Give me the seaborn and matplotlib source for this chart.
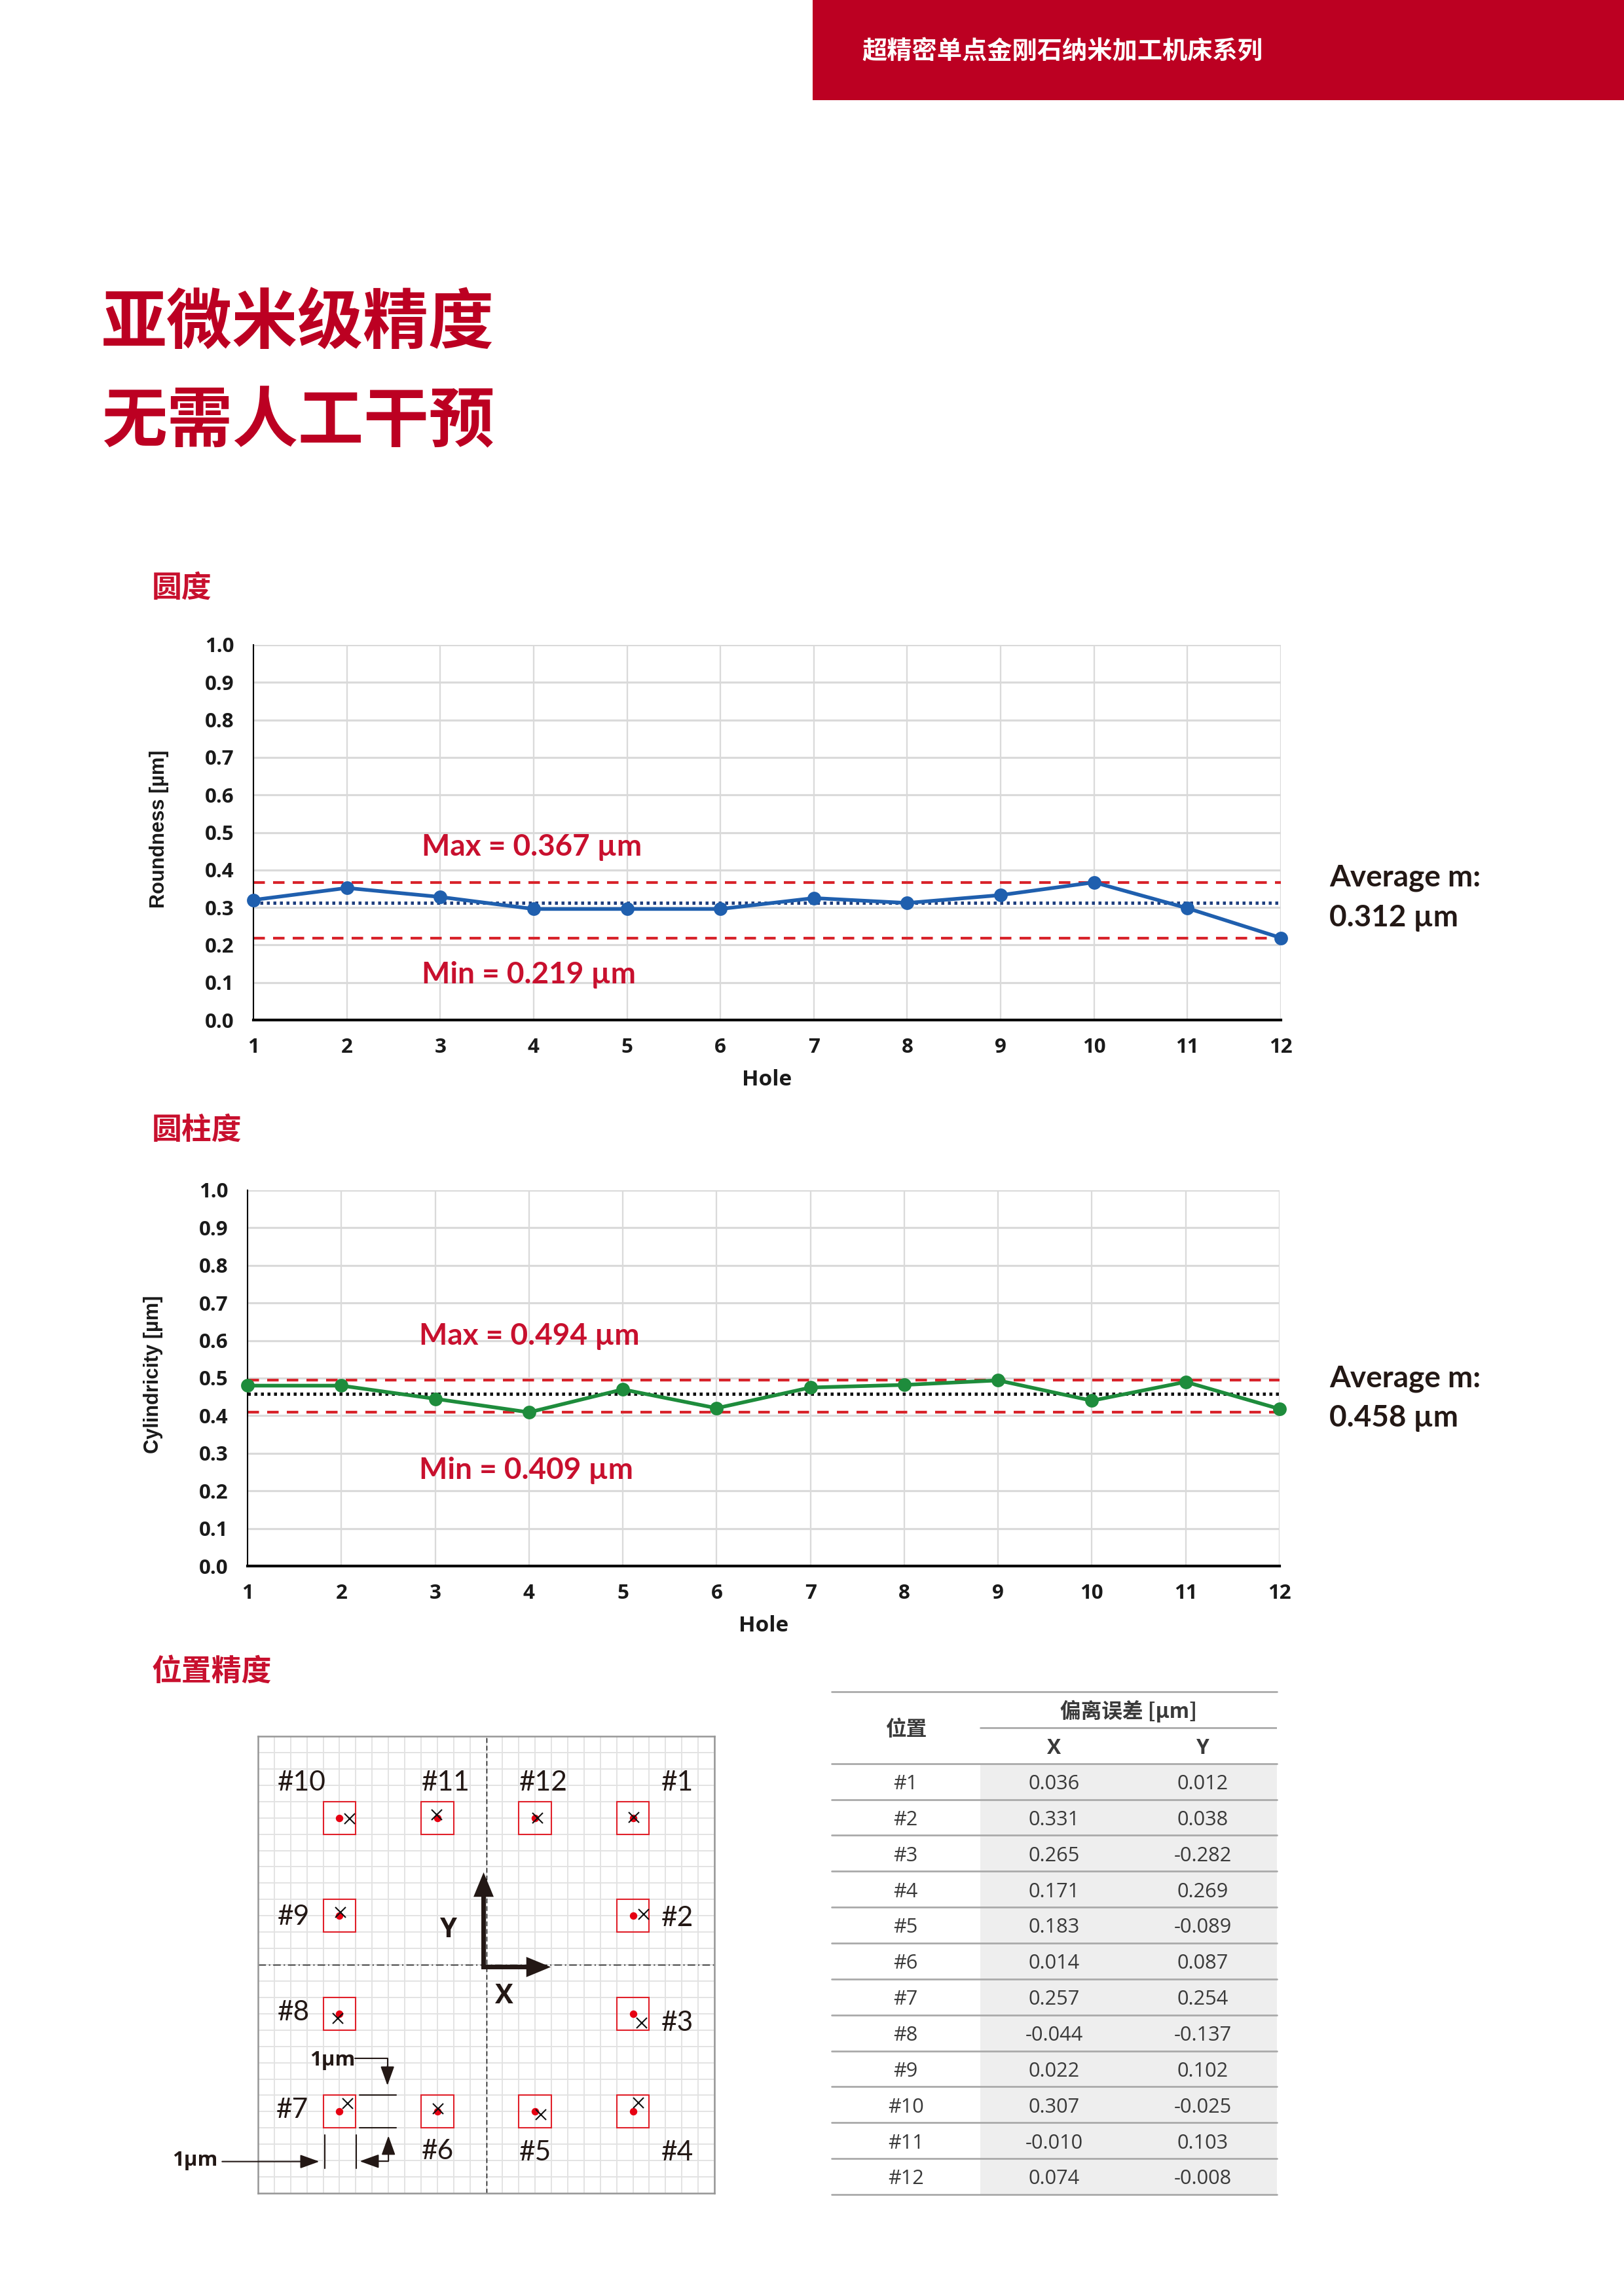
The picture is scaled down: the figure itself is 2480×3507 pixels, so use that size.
import matplotlib
matplotlib.use("Agg")
import matplotlib.pyplot as plt
import seaborn as sns
from matplotlib.patches import Rectangle, FancyArrow

sns.set_theme(style="white")
CJK = ['Noto Sans CJK SC', 'DejaVu Sans']
plt.rcParams['font.family'] = ['Open Sans', 'DejaVu Sans']

# ---------- data ----------
holes = list(range(1, 13))
roundness = [0.320, 0.352, 0.328, 0.296, 0.296, 0.296, 0.325, 0.312, 0.333, 0.367, 0.298, 0.219]
round_max, round_min, round_avg = 0.367, 0.219, 0.312
cylindricity = [0.480, 0.480, 0.445, 0.409, 0.470, 0.420, 0.475, 0.482, 0.494, 0.440, 0.490, 0.418]
cyl_max, cyl_min, cyl_avg = 0.494, 0.409, 0.458
dev_x = [0.036, 0.331, 0.265, 0.171, 0.183, 0.014, 0.257, -0.044, 0.022, 0.307, -0.010, 0.074]
dev_y = [0.012, 0.038, -0.282, 0.269, -0.089, 0.087, 0.254, -0.137, 0.102, -0.025, 0.103, -0.008]
dev_x_txt = ["0.036", "0.331", "0.265", "0.171", "0.183", "0.014", "0.257", "-0.044", "0.022", "0.307", "-0.010", "0.074"]
dev_y_txt = ["0.012", "0.038", "-0.282", "0.269", "-0.089", "0.087", "0.254", "-0.137", "0.102", "-0.025", "0.103", "-0.008"]
nominal_x = [4.5, 4.5, 4.5, 4.5, 1.5, -1.5, -4.5, -4.5, -4.5, -4.5, -1.5, 1.5]
nominal_y = [4.5, 1.5, -1.5, -4.5, -4.5, -4.5, -4.5, -1.5, 1.5, 4.5, 4.5, 4.5]
label_x = [5.37, 5.37, 5.37, 5.37, 1.01, -1.99, -6.44, -6.39, -6.39, -6.39, -1.99, 1.01]
label_y = [5.57, 1.43, -1.79, -5.76, -5.76, -5.71, -4.46, -1.46, 1.46, 5.57, 5.57, 5.57]
y_ticks = [0.0, 0.1, 0.2, 0.3, 0.4, 0.5, 0.6, 0.7, 0.8, 0.9, 1.0]

# ---------- layout helpers ----------
W, H = 2480, 3507
DPI = 300
RED = "#BC0022"
TXT_RED = "#C8102E"
fig = plt.figure(figsize=(W / DPI, H / DPI), dpi=DPI, facecolor="white")


def px_axes(x0, y0, x1, y1):
    return fig.add_axes([x0 / W, 1 - y1 / H, (x1 - x0) / W, (y1 - y0) / H])


def ftext(x, y, s, **kw):
    kw.setdefault("va", "center")
    return fig.text(x / W, 1 - y / H, s, **kw)


# ---------- header ----------
fig.add_artist(Rectangle((1241 / W, 1 - 153 / H), (W - 1241) / W, 153 / H,
                         transform=fig.transFigure, color=RED, lw=0))
ftext(1316, 78, "超精密单点金刚石纳米加工机床系列", family=CJK, weight="bold", color="white", fontsize=9.2)
ftext(155, 495, "亚微米级精度", family=CJK, weight="bold", color=RED, fontsize=24.0)
ftext(155, 645, "无需人工干预", family=CJK, weight="bold", color=RED, fontsize=24.0)
ftext(232, 899, "圆度", family=CJK, weight="bold", color=TXT_RED, fontsize=11)
ftext(232, 1727, "圆柱度", family=CJK, weight="bold", color=TXT_RED, fontsize=11)
ftext(232, 2554, "位置精度", family=CJK, weight="bold", color=TXT_RED, fontsize=11)


# ---------- line charts ----------
def line_chart(box, values, vmax, vmin, vavg, color, avg_color, ylabel, ylab_x, max_y, min_y, txt_x, avg_px):
    ax = px_axes(*box)
    ax.set_xlim(1, 12)
    ax.set_ylim(0, 1)
    ax.set_axisbelow(True)
    ax.set_xticks(holes)
    ax.set_yticks(y_ticks)
    ax.set_yticklabels([f"{t:.1f}" for t in y_ticks])
    ax.grid(axis="y", color="#DADADA", lw=0.75)
    ax.grid(axis="x", color="#DADADA", lw=0.55)
    ax.tick_params(axis="both", length=0, labelsize=7.5, labelcolor="#1a1a1a")
    ax.tick_params(axis="y", pad=7)
    ax.tick_params(axis="x", pad=6.5)
    for t in ax.get_xticklabels() + ax.get_yticklabels():
        t.set_fontweight("bold")
    for s in ("top", "right"):
        ax.spines[s].set_visible(False)
    ax.spines["left"].set_color("black")
    ax.spines["left"].set_linewidth(0.5)
    ax.spines["bottom"].set_color("black")
    ax.spines["bottom"].set_linewidth(1.0)
    ax.axhline(vmax, color="#D8232A", lw=1.0, dashes=(4.2, 3.0), zorder=2)
    ax.axhline(vmin, color="#D8232A", lw=1.0, dashes=(4.2, 3.0), zorder=2)
    ax.axhline(vavg, color=avg_color, lw=1.2, dashes=(0.9, 1.1), zorder=2)
    sns.lineplot(x=holes, y=values, ax=ax, color=color, lw=1.35, marker="o", ms=5.0,
                 mec=color, mew=0, clip_on=False, zorder=3, errorbar=None)
    ax.set_xlabel("Hole", fontsize=8, fontweight="bold", color="#1a1a1a", va="center")
    ax.xaxis.set_label_coords(0.5, -91 / (box[3] - box[1]))
    ax.set_ylabel(ylabel, fontsize=7.4, fontweight="bold", color="#1a1a1a", family="Liberation Sans", va="center")
    ax.yaxis.set_label_coords(ylab_x, 0.51)
    ax.text(txt_x, max_y, f"Max = {vmax:.3f} µm", color=TXT_RED, fontsize=11, fontweight="bold",
            family="Lato", va="center")
    ax.text(txt_x, min_y, f"Min = {vmin:.3f} µm", color=TXT_RED, fontsize=11, fontweight="bold",
            family="Lato", va="center")
    ftext(2030, avg_px[0], "Average m:", color="#231815", fontsize=11, fontweight="bold", family="Lato")
    ftext(2030, avg_px[1], f"{vavg:.3f} µm", color="#231815", fontsize=11, fontweight="bold", family="Lato")
    return ax


line_chart((387, 985, 1956, 1558), roundness, round_max, round_min, round_avg, "#1F5FAE", "#1F3F7F",
           "Roundness [µm]", -144 / 1569, 0.461, 0.120, 2.80, (1341, 1402))
line_chart((378, 1818, 1954, 2392), cylindricity, cyl_max, cyl_min, cyl_avg, "#1E8C3C", "#111111",
           "Cylindricity [µm]", -144 / 1576, 0.611, 0.254, 2.83, (2106, 2166))

# ---------- position diagram ----------
ax = px_axes(394, 2652, 1091, 3350)
ax.set_xlim(-7, 7)
ax.set_ylim(-7, 7)
ticks = [i * 0.5 for i in range(-14, 15)]
ax.set_xticks(ticks)
ax.set_yticks(ticks)
ax.tick_params(length=0, labelbottom=False, labelleft=False)
ax.grid(True, color="#E2E2E2", lw=0.45)
ax.set_axisbelow(True)
for s in ax.spines.values():
    s.set_color("#969696")
    s.set_linewidth(0.6)
ax.axhline(0, color="#111111", lw=0.35, dashes=(8, 3, 1.5, 3), zorder=2)
ax.axvline(0, color="#111111", lw=0.35, dashes=(5, 3), zorder=2)
for i in range(12):
    cx, cy = nominal_x[i], nominal_y[i]
    ax.add_patch(Rectangle((cx - 0.5, cy - 0.5), 1, 1, fill=False, ec="#E0202A", lw=0.5, zorder=3))
    ax.text(label_x[i], label_y[i], f"#{i + 1}", fontsize=10.2, family="Lato", fontweight="normal",
            color="#231815", va="center", ha="left")
sns.scatterplot(x=nominal_x, y=nominal_y, ax=ax, color="#E60012", s=7.5, lw=0, zorder=4)
ax.plot([a + b for a, b in zip(nominal_x, dev_x)], [a + b for a, b in zip(nominal_y, dev_y)],
        ls="none", marker="x", ms=4, mew=0.5, color="#111111", zorder=5)
ax.add_patch(FancyArrow(-0.08, -0.1, 0, 2.93, width=0.14, head_width=0.62, head_length=0.75,
                        length_includes_head=True, color="#231815", lw=0, zorder=6))
ax.add_patch(FancyArrow(-0.15, -0.07, 2.13, 0, width=0.14, head_width=0.62, head_length=0.75,
                        length_includes_head=True, color="#231815", lw=0, zorder=6))
ax.text(-1.16, 1.06, "Y", fontsize=10, fontweight="bold", color="#231815", ha="center", va="center")
ax.text(0.54, -0.97, "X", fontsize=10, fontweight="bold", color="#231815", ha="center", va="center")

ax.text(-4.72, -2.92, "1µm", fontsize=7.5, fontweight="bold", color="#231815", ha="center", va="center")
ax.text(-8.93, -6.0, "1µm", fontsize=7.5, fontweight="bold", color="#231815", ha="center", va="center", clip_on=False)
DIM = "#231815"
arrow_kw = dict(arrowstyle="-|>,head_length=0.5,head_width=0.18", color=DIM, lw=0.5, shrinkA=0, shrinkB=0)
ax.plot([-4.02, -3.03, -3.03], [-2.87, -2.87, -3.2], color=DIM, lw=0.5, zorder=5)
ax.annotate("", xy=(-3.03, -3.70), xytext=(-3.03, -3.1), arrowprops=arrow_kw, zorder=5)
ax.plot([-3.88, -2.76], [-4.0, -4.0], color=DIM, lw=0.5, zorder=5)
ax.plot([-3.88, -2.76], [-5.0, -5.0], color=DIM, lw=0.5, zorder=5)
ax.annotate("", xy=(-3.0, -5.24), xytext=(-3.0, -6.0), arrowprops=arrow_kw, zorder=5)
ax.annotate("", xy=(-3.88, -6.02), xytext=(-3.0, -6.02), arrowprops=arrow_kw, zorder=5)
ax.plot([-4.95, -4.95], [-5.22, -6.24], color=DIM, lw=0.5, zorder=5)
ax.plot([-3.98, -3.98], [-5.22, -6.24], color=DIM, lw=0.5, zorder=5)
ax.annotate("", xy=(-5.12, -6.03), xytext=(-8.1, -6.03), arrowprops=arrow_kw, annotation_clip=False, zorder=5)

# ---------- table ----------
tb = px_axes(1270, 2584, 1950, 3352)
tb.set_xlim(0, 3)
tb.set_ylim(14, 0)
tb.axis("off")
tb.add_patch(Rectangle((1, 2), 2, 12, color="#EEEEEE", lw=0, zorder=1))
LINE = "#A8A8A8"
for r in [0, 2] + list(range(3, 15)):
    tb.plot([0, 3], [r, r], color=LINE, lw=0.65, zorder=2, clip_on=False)
tb.plot([1, 3], [1, 1], color=LINE, lw=0.65, zorder=2)
TC = "#3A3A3A"
tb.text(0.5, 1.05, "位置", family=CJK, fontsize=7.6, fontweight="bold", color=TC, ha="center", va="center")
tb.text(2.0, 0.55, "偏离误差 [µm]", family=CJK, fontsize=7.6, fontweight="bold", color=TC, ha="center", va="center")
tb.text(1.5, 1.57, "X", fontsize=7.6, fontweight="bold", color=TC, ha="center", va="center")
tb.text(2.5, 1.57, "Y", fontsize=7.6, fontweight="bold", color=TC, ha="center", va="center")
for i in range(12):
    tb.text(0.5, i + 2.57, f"#{i + 1}", fontsize=7.4, color=TC, ha="center", va="center")
    tb.text(1.5, i + 2.57, dev_x_txt[i], fontsize=7.4, color=TC, ha="center", va="center")
    tb.text(2.5, i + 2.57, dev_y_txt[i], fontsize=7.4, color=TC, ha="center", va="center")

fig.savefig("out.png", dpi=DPI, facecolor="white")
